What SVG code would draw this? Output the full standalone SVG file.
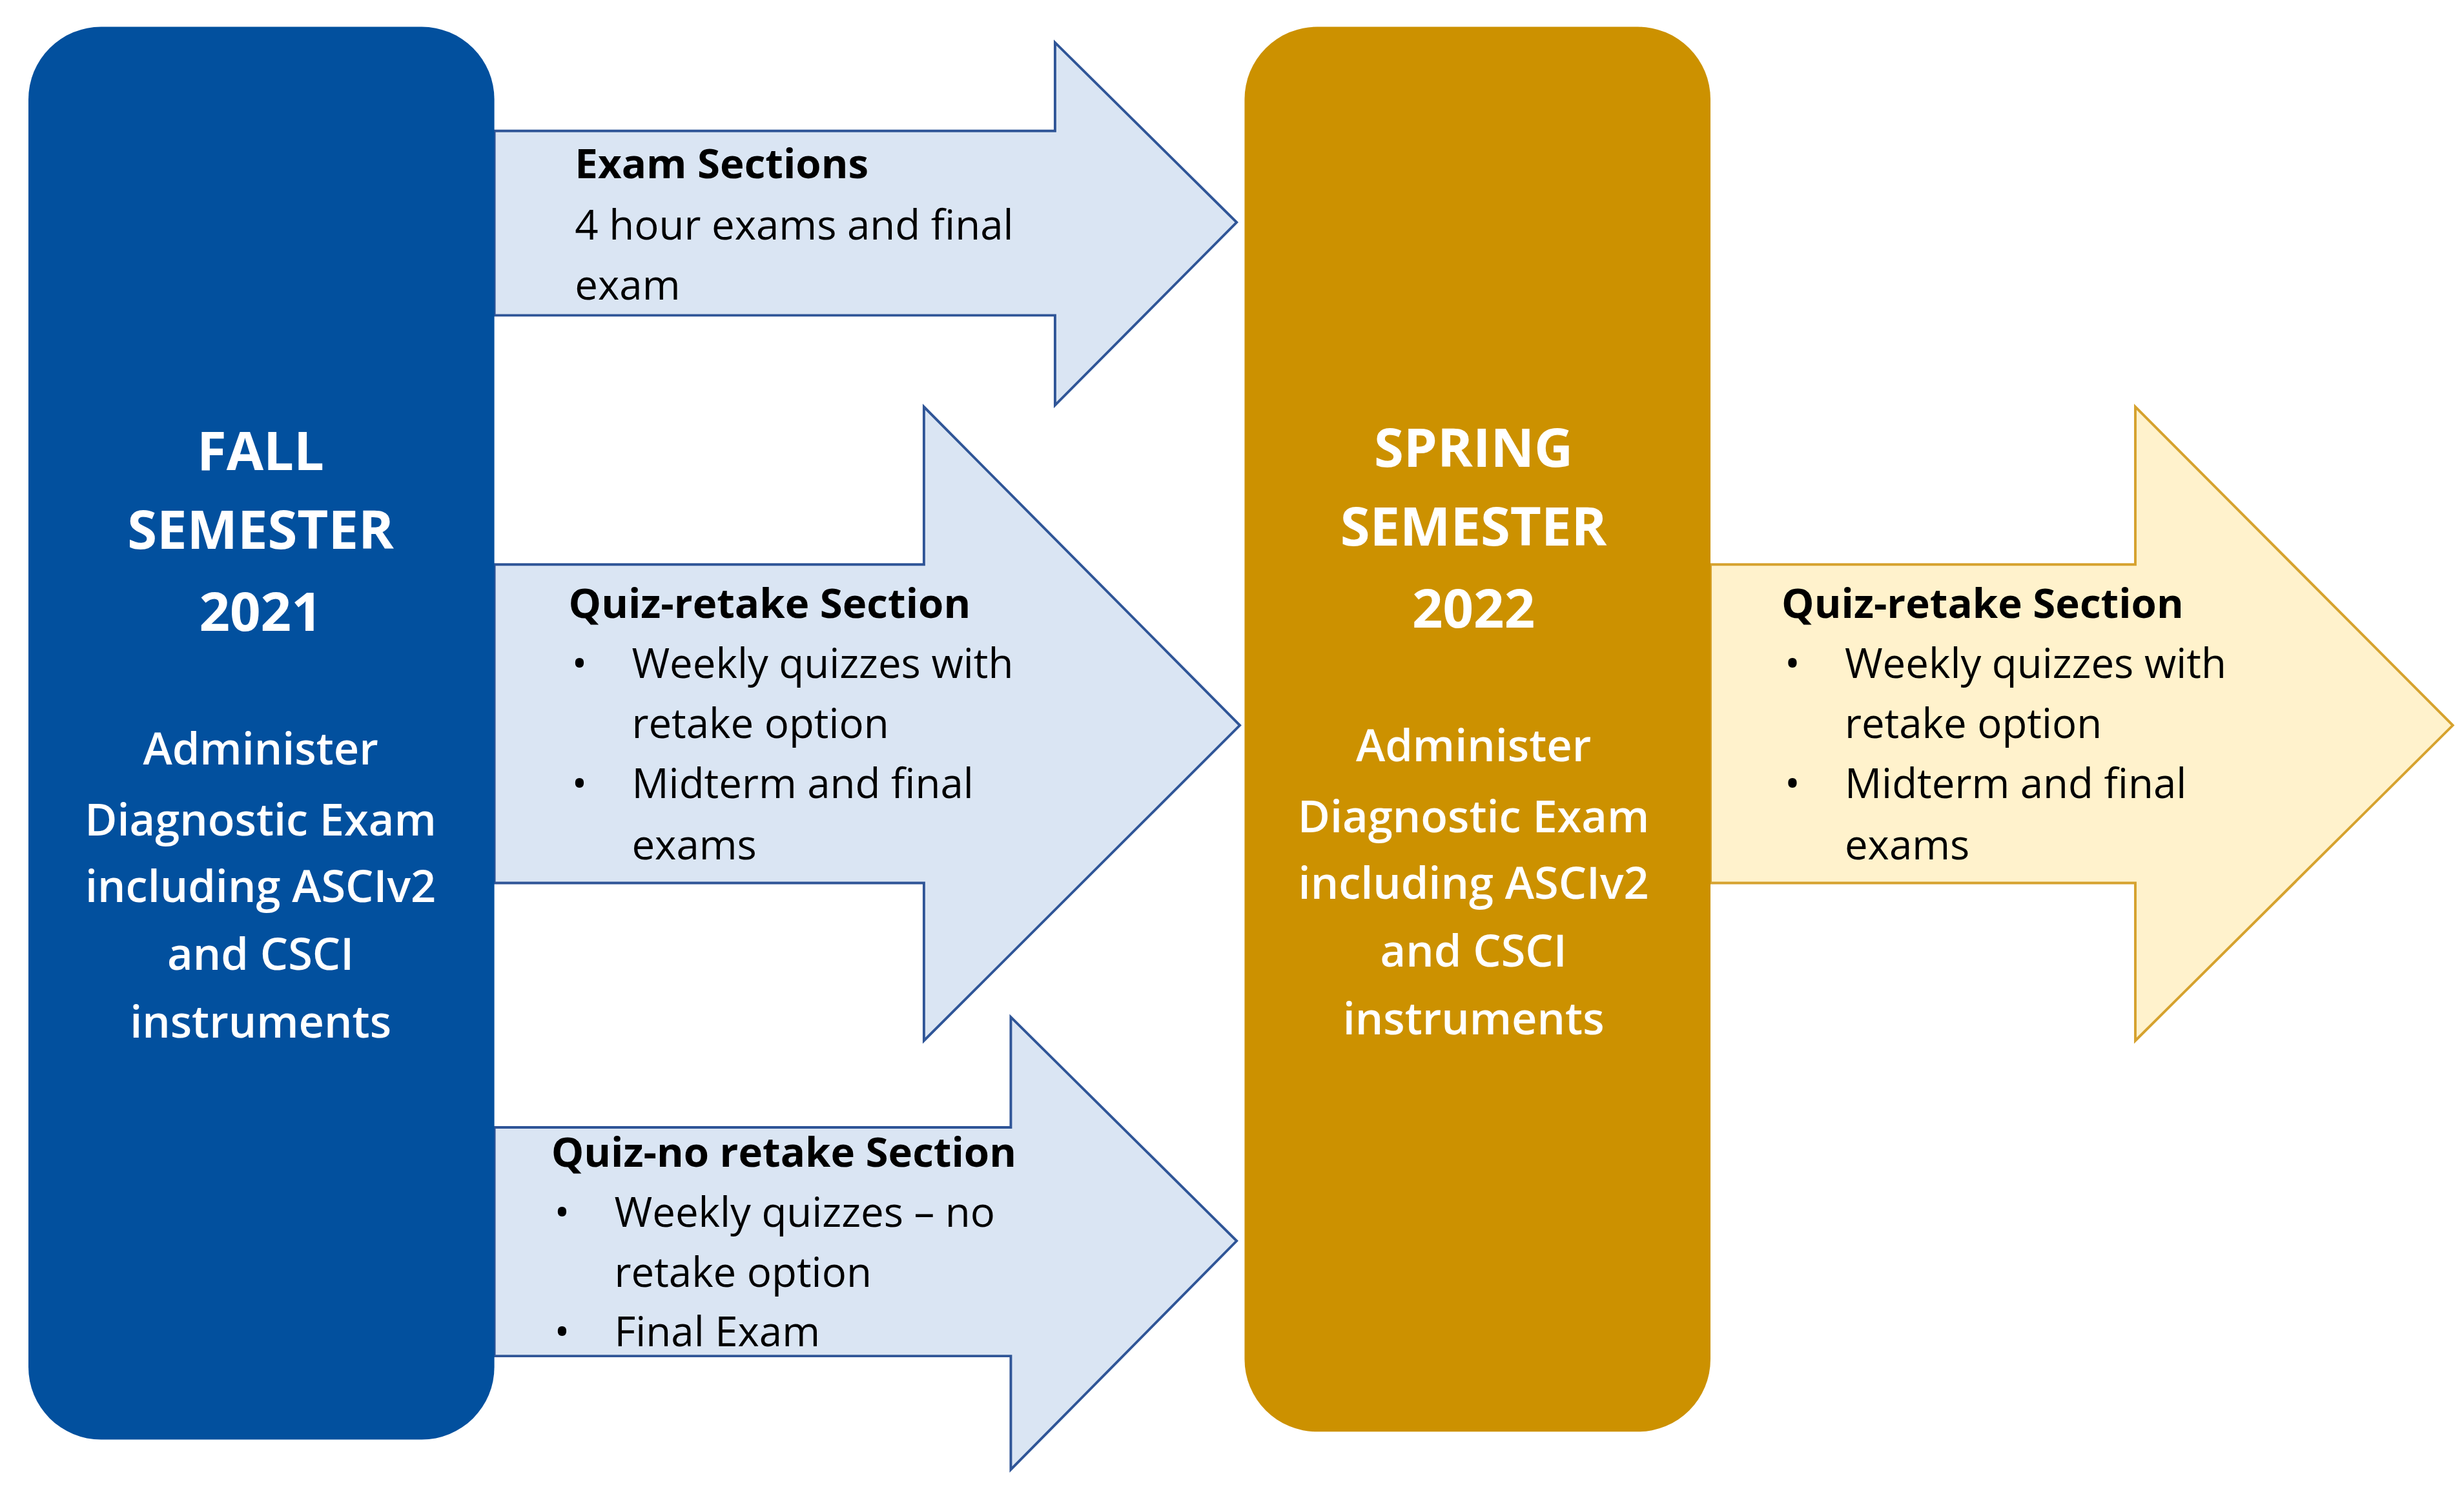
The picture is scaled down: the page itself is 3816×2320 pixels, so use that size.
<svg xmlns="http://www.w3.org/2000/svg" width="3816" height="2320" viewBox="0 0 3816 2320">
<style>
.t{font-family:"Open Sans","Liberation Sans",sans-serif;font-size:26px;fill:#000}
.b{font-weight:bold}
.w{font-family:"Open Sans","Liberation Sans",sans-serif;fill:#fff;text-anchor:middle;font-weight:600}
.h{font-size:34px;font-weight:bold}
.s{font-size:28px}
.blue{fill:#DAE5F3;stroke:#2F5597;stroke-width:1.6}
.gold{fill:#FFF2CC;stroke:#D6A22E;stroke-width:1.6}
</style>
<rect width="3816" height="2320" fill="#fff"/>
<g transform="scale(2.446,2.442)">
<g id="connectors">
<polygon class="blue" points="313,83 668,83 668,27 783,141 668,257 668,200 313,200"/>
<polygon class="blue" points="313,358 585,358 585,258 785,460 585,660 585,560 313,560"/>
<polygon class="blue" points="313,715 640,715 640,645 783,787 640,932 640,860 313,860"/>
<polygon class="gold" points="1083,358 1352,358 1352,258 1553,460 1352,660 1352,560 1083,560"/>
</g>
<g id="fall">
<rect x="18" y="17" width="295" height="896" rx="46" fill="#02509E"/>
<text class="w h" x="165" y="298">FALL</text>
<text class="w h" x="165" y="348">SEMESTER</text>
<text class="w h" x="165" y="400">2021</text>
<text class="w s" x="165" y="485">Administer</text>
<text class="w s" x="165" y="530">Diagnostic Exam</text>
<text class="w s" x="165" y="572">including ASCIv2</text>
<text class="w s" x="165" y="615">and CSCI</text>
<text class="w s" x="165" y="658">instruments</text>
</g>
<g id="spring">
<rect x="788" y="17" width="295" height="891" rx="46" fill="#CC9100"/>
<text class="w h" x="933" y="296">SPRING</text>
<text class="w h" x="933" y="346">SEMESTER</text>
<text class="w h" x="933" y="398">2022</text>
<text class="w s" x="933" y="483">Administer</text>
<text class="w s" x="933" y="528">Diagnostic Exam</text>
<text class="w s" x="933" y="570">including ASCIv2</text>
<text class="w s" x="933" y="613">and CSCI</text>
<text class="w s" x="933" y="656">instruments</text>
</g>
<g id="exam">
<text class="t b" x="364" y="113">Exam Sections</text>
<text class="t" x="364" y="152">4 hour exams and final</text>
<text class="t" x="364" y="190">exam</text>
</g>
<g id="quizretake1">
<text class="t b" x="360" y="392">Quiz-retake Section</text>
<text class="t" x="362" y="430">•</text><text class="t" x="400" y="430">Weekly quizzes with</text>
<text class="t" x="400" y="468">retake option</text>
<text class="t" x="362" y="506">•</text><text class="t" x="400" y="506">Midterm and final</text>
<text class="t" x="400" y="545">exams</text>
</g>
<g id="quiznoretake">
<text class="t b" x="349" y="740">Quiz-no retake Section</text>
<text class="t" x="351" y="778">•</text><text class="t" x="389" y="778">Weekly quizzes – no</text>
<text class="t" x="389" y="816">retake option</text>
<text class="t" x="351" y="854">•</text><text class="t" x="389" y="854">Final Exam</text>
</g>
<g id="quizretake2">
<text class="t b" x="1128" y="392">Quiz-retake Section</text>
<text class="t" x="1130" y="430">•</text><text class="t" x="1168" y="430">Weekly quizzes with</text>
<text class="t" x="1168" y="468">retake option</text>
<text class="t" x="1130" y="506">•</text><text class="t" x="1168" y="506">Midterm and final</text>
<text class="t" x="1168" y="545">exams</text>
</g>
</g>
</svg>
